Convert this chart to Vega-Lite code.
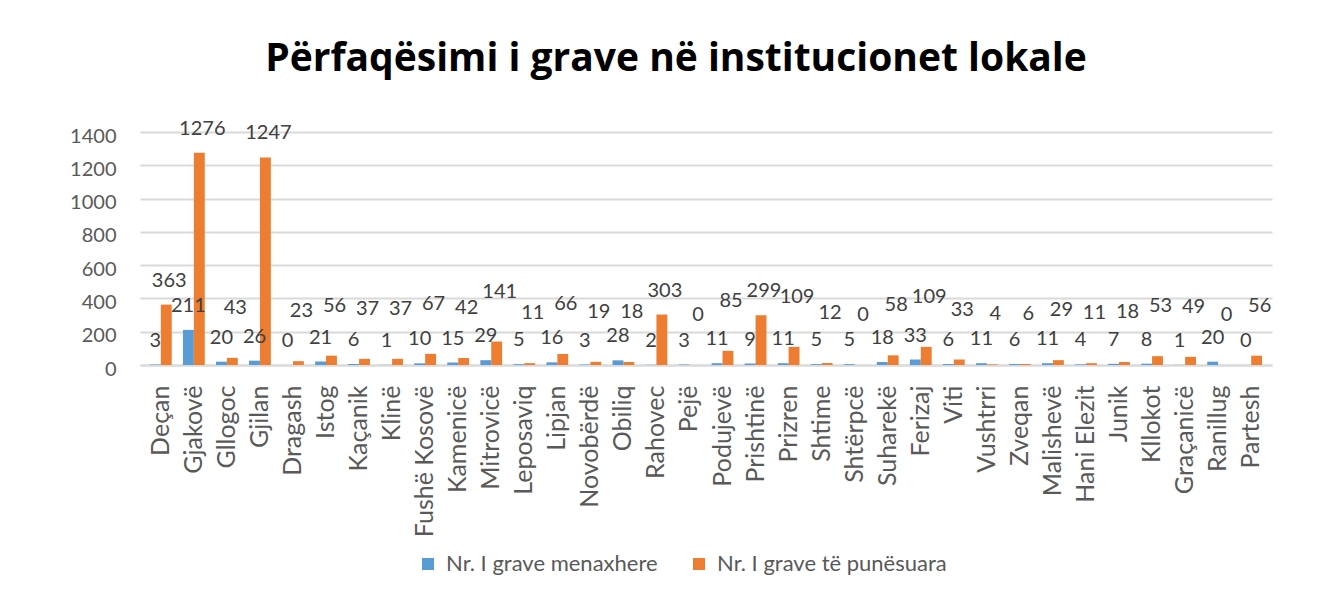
{
  "$schema": "https://vega.github.io/schema/vega-lite/v6.json",
  "autosize": {"type": "none"},
  "padding": {"left": 140, "top": 132, "right": 63, "bottom": 229},
  "width": 1132,
  "height": 233,
  "background": "white",
  "title": {
    "text": "Përfaqësimi i grave në institucionet lokale",
    "font": "Open Sans",
    "fontSize": 39,
    "fontWeight": "bold",
    "color": "#000000",
    "anchor": "middle",
    "frame": "group",
    "baseline": "alphabetic",
    "offset": 60,
    "dx": -30,
    "dy": 51
  },
  "config": {
    "font": "Lato",
    "view": {"stroke": null}
  },
  "data": {
    "values": [
      {"komuna": "Deçan", "seria": "Nr. I grave menaxhere", "vlera": 3},
      {"komuna": "Deçan", "seria": "Nr. I grave të punësuara", "vlera": 363},
      {"komuna": "Gjakovë", "seria": "Nr. I grave menaxhere", "vlera": 211},
      {"komuna": "Gjakovë", "seria": "Nr. I grave të punësuara", "vlera": 1276},
      {"komuna": "Gllogoc", "seria": "Nr. I grave menaxhere", "vlera": 20},
      {"komuna": "Gllogoc", "seria": "Nr. I grave të punësuara", "vlera": 43},
      {"komuna": "Gjilan", "seria": "Nr. I grave menaxhere", "vlera": 26},
      {"komuna": "Gjilan", "seria": "Nr. I grave të punësuara", "vlera": 1247},
      {"komuna": "Dragash", "seria": "Nr. I grave menaxhere", "vlera": 0},
      {"komuna": "Dragash", "seria": "Nr. I grave të punësuara", "vlera": 23},
      {"komuna": "Istog", "seria": "Nr. I grave menaxhere", "vlera": 21},
      {"komuna": "Istog", "seria": "Nr. I grave të punësuara", "vlera": 56},
      {"komuna": "Kaçanik", "seria": "Nr. I grave menaxhere", "vlera": 6},
      {"komuna": "Kaçanik", "seria": "Nr. I grave të punësuara", "vlera": 37},
      {"komuna": "Klinë", "seria": "Nr. I grave menaxhere", "vlera": 1},
      {"komuna": "Klinë", "seria": "Nr. I grave të punësuara", "vlera": 37},
      {"komuna": "Fushë Kosovë", "seria": "Nr. I grave menaxhere", "vlera": 10},
      {"komuna": "Fushë Kosovë", "seria": "Nr. I grave të punësuara", "vlera": 67},
      {"komuna": "Kamenicë", "seria": "Nr. I grave menaxhere", "vlera": 15},
      {"komuna": "Kamenicë", "seria": "Nr. I grave të punësuara", "vlera": 42},
      {"komuna": "Mitrovicë", "seria": "Nr. I grave menaxhere", "vlera": 29},
      {"komuna": "Mitrovicë", "seria": "Nr. I grave të punësuara", "vlera": 141},
      {"komuna": "Leposaviq", "seria": "Nr. I grave menaxhere", "vlera": 5},
      {"komuna": "Leposaviq", "seria": "Nr. I grave të punësuara", "vlera": 11},
      {"komuna": "Lipjan", "seria": "Nr. I grave menaxhere", "vlera": 16},
      {"komuna": "Lipjan", "seria": "Nr. I grave të punësuara", "vlera": 66},
      {"komuna": "Novobërdë", "seria": "Nr. I grave menaxhere", "vlera": 3},
      {"komuna": "Novobërdë", "seria": "Nr. I grave të punësuara", "vlera": 19},
      {"komuna": "Obiliq", "seria": "Nr. I grave menaxhere", "vlera": 28},
      {"komuna": "Obiliq", "seria": "Nr. I grave të punësuara", "vlera": 18},
      {"komuna": "Rahovec", "seria": "Nr. I grave menaxhere", "vlera": 2},
      {"komuna": "Rahovec", "seria": "Nr. I grave të punësuara", "vlera": 303},
      {"komuna": "Pejë", "seria": "Nr. I grave menaxhere", "vlera": 3},
      {"komuna": "Pejë", "seria": "Nr. I grave të punësuara", "vlera": 0},
      {"komuna": "Podujevë", "seria": "Nr. I grave menaxhere", "vlera": 11},
      {"komuna": "Podujevë", "seria": "Nr. I grave të punësuara", "vlera": 85},
      {"komuna": "Prishtinë", "seria": "Nr. I grave menaxhere", "vlera": 9},
      {"komuna": "Prishtinë", "seria": "Nr. I grave të punësuara", "vlera": 299},
      {"komuna": "Prizren", "seria": "Nr. I grave menaxhere", "vlera": 11},
      {"komuna": "Prizren", "seria": "Nr. I grave të punësuara", "vlera": 109},
      {"komuna": "Shtime", "seria": "Nr. I grave menaxhere", "vlera": 5},
      {"komuna": "Shtime", "seria": "Nr. I grave të punësuara", "vlera": 12},
      {"komuna": "Shtërpcë", "seria": "Nr. I grave menaxhere", "vlera": 5},
      {"komuna": "Shtërpcë", "seria": "Nr. I grave të punësuara", "vlera": 0},
      {"komuna": "Suharekë", "seria": "Nr. I grave menaxhere", "vlera": 18},
      {"komuna": "Suharekë", "seria": "Nr. I grave të punësuara", "vlera": 58},
      {"komuna": "Ferizaj", "seria": "Nr. I grave menaxhere", "vlera": 33},
      {"komuna": "Ferizaj", "seria": "Nr. I grave të punësuara", "vlera": 109},
      {"komuna": "Viti", "seria": "Nr. I grave menaxhere", "vlera": 6},
      {"komuna": "Viti", "seria": "Nr. I grave të punësuara", "vlera": 33},
      {"komuna": "Vushtrri", "seria": "Nr. I grave menaxhere", "vlera": 11},
      {"komuna": "Vushtrri", "seria": "Nr. I grave të punësuara", "vlera": 4},
      {"komuna": "Zveqan", "seria": "Nr. I grave menaxhere", "vlera": 6},
      {"komuna": "Zveqan", "seria": "Nr. I grave të punësuara", "vlera": 6},
      {"komuna": "Malishevë", "seria": "Nr. I grave menaxhere", "vlera": 11},
      {"komuna": "Malishevë", "seria": "Nr. I grave të punësuara", "vlera": 29},
      {"komuna": "Hani Elezit", "seria": "Nr. I grave menaxhere", "vlera": 4},
      {"komuna": "Hani Elezit", "seria": "Nr. I grave të punësuara", "vlera": 11},
      {"komuna": "Junik", "seria": "Nr. I grave menaxhere", "vlera": 7},
      {"komuna": "Junik", "seria": "Nr. I grave të punësuara", "vlera": 18},
      {"komuna": "Kllokot", "seria": "Nr. I grave menaxhere", "vlera": 8},
      {"komuna": "Kllokot", "seria": "Nr. I grave të punësuara", "vlera": 53},
      {"komuna": "Graçanicë", "seria": "Nr. I grave menaxhere", "vlera": 1},
      {"komuna": "Graçanicë", "seria": "Nr. I grave të punësuara", "vlera": 49},
      {"komuna": "Ranillug", "seria": "Nr. I grave menaxhere", "vlera": 20},
      {"komuna": "Ranillug", "seria": "Nr. I grave të punësuara", "vlera": 0},
      {"komuna": "Partesh", "seria": "Nr. I grave menaxhere", "vlera": 0},
      {"komuna": "Partesh", "seria": "Nr. I grave të punësuara", "vlera": 56}
    ]
  },
  "encoding": {
    "x": {
      "field": "komuna",
      "type": "nominal",
      "sort": null,
      "scale": {"paddingInner": 0.34, "paddingOuter": 0.3},
      "axis": {
        "title": null,
        "labelAngle": -90,
        "labelFont": "Lato",
        "labelFontSize": 25,
        "labelColor": "#595959",
        "labelPadding": 20,
        "ticks": false,
        "domainColor": "#D9D9D9",
        "domainWidth": 2
      }
    },
    "xOffset": {"field": "seria", "type": "nominal", "sort": ["Nr. I grave menaxhere", "Nr. I grave të punësuara"]},
    "y": {
      "field": "vlera",
      "type": "quantitative",
      "scale": {"domain": [0, 1400], "nice": false},
      "axis": {
        "title": null,
        "values": [0, 200, 400, 600, 800, 1000, 1200, 1400],
        "format": "d",
        "labelFont": "Lato",
        "labelFontSize": 20,
        "labelColor": "#595959",
        "labelPadding": 24,
        "labelOffset": 4,
        "ticks": false,
        "domain": false,
        "gridColor": "#D9D9D9",
        "gridWidth": 2
      }
    }
  },
  "layer": [
    {
      "mark": {"type": "bar", "stroke": null},
      "encoding": {
        "color": {
          "field": "seria",
          "type": "nominal",
          "sort": ["Nr. I grave menaxhere", "Nr. I grave të punësuara"],
          "scale": {"range": ["#5B9BD5", "#ED7D31"]},
          "legend": {
            "title": null,
            "orient": "none",
            "direction": "horizontal",
            "legendX": 277,
            "legendY": 421,
            "symbolType": "square",
            "symbolSize": 144,
            "symbolStrokeWidth": 0,
            "labelFont": "Lato",
            "labelFontSize": 22,
            "labelColor": "#595959",
            "labelLimit": 400,
            "columnPadding": 30,
            "labelOffset": 7
          }
        }
      }
    },
    {
      "transform": [{"filter": "datum.seria === 'Nr. I grave menaxhere'"}],
      "mark": {"type": "text", "font": "Lato", "fontSize": 20, "color": "#404040", "baseline": "middle", "dy": -24},
      "encoding": {"text": {"field": "vlera", "type": "quantitative"}}
    },
    {
      "transform": [{"filter": "datum.seria === 'Nr. I grave të punësuara'"}],
      "mark": {"type": "text", "font": "Lato", "fontSize": 20, "color": "#404040", "baseline": "middle", "dx": 3, "dy": {"expr": "datum.vlera > 200 ? -24 : -50"}},
      "encoding": {"text": {"field": "vlera", "type": "quantitative"}}
    }
  ]
}
